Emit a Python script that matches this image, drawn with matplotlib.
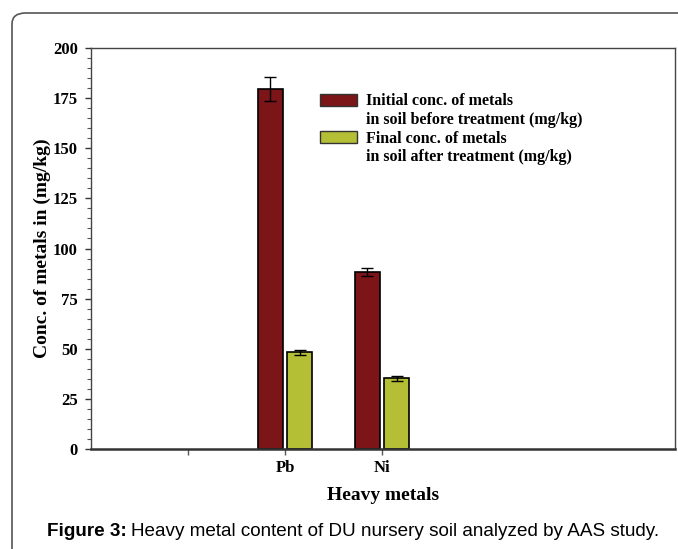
import matplotlib
matplotlib.use("Agg")
import matplotlib.pyplot as plt
import numpy as np
from matplotlib.patches import FancyBboxPatch, Patch
from matplotlib.ticker import MultipleLocator

# data
metals = ["", "Pb", "Ni"]
initial = [0, 179.4, 88.3]
initial_err = [0, 6.0, 2.1]
final = [0, 48.3, 35.3]
final_err = [0, 1.3, 1.2]

red = "#7b1518"
green = "#b5bf35"

plt.rcParams["font.family"] = ["Liberation Serif", "DejaVu Serif"]

fig = plt.figure(figsize=(6.78, 5.49), dpi=100)
ax = fig.add_axes([0.1342, 0.1821, 0.8614, 0.7305])

x = np.arange(1, len(metals) + 1)
w = 0.26
gap = 0.02
mask = np.array(initial) > 0
ax.bar(x[mask] - w / 2 - gap, np.array(initial)[mask], w, color=red,
       edgecolor="black", linewidth=1.2, zorder=2)
ax.bar(x[mask] + w / 2 + gap, np.array(final)[mask], w, color=green,
       edgecolor="black", linewidth=1.2, zorder=2)
ax.errorbar(x[mask] - w / 2 - gap, np.array(initial)[mask],
            yerr=np.array(initial_err)[mask], fmt="none", ecolor="black",
            elinewidth=1, capsize=4, capthick=1, zorder=3)
ax.errorbar(x[mask] + w / 2 + gap, np.array(final)[mask],
            yerr=np.array(final_err)[mask], fmt="none", ecolor="black",
            elinewidth=1, capsize=4, capthick=1, zorder=3)

ax.set_xlim(0, 6.02)
ax.set_ylim(0, 200)
ax.set_xticks(x)
ax.set_xticklabels(metals, fontsize=12, fontweight="bold")
ax.yaxis.set_major_locator(MultipleLocator(25))
ax.yaxis.set_minor_locator(MultipleLocator(5))
ax.tick_params(axis="y", which="major", length=4.5, width=1, labelsize=12,
               color="#333333", pad=5)
ax.tick_params(axis="y", which="minor", length=3, width=0.8, color="#555555")
ax.tick_params(axis="x", length=4, width=1, color="#555555", pad=4)
for lab in ax.get_yticklabels():
    lab.set_fontweight("bold")

for side in ["top", "right"]:
    ax.spines[side].set_color("#444444")
    ax.spines[side].set_linewidth(1)
ax.spines["left"].set_color("#444444")
ax.spines["left"].set_linewidth(1)
ax.spines["bottom"].set_color("#333333")
ax.spines["bottom"].set_linewidth(1.8)

ax.set_ylabel("Conc. of metals in (mg/kg)", fontsize=14, fontweight="bold",
              labelpad=1)
ax.set_xlabel("Heavy metals", fontsize=14, fontweight="bold", labelpad=8)

blank = Patch(facecolor="none", edgecolor="none")
handles = [Patch(facecolor=red, edgecolor="#333333"), blank,
           Patch(facecolor=green, edgecolor="#333333"), blank]
labels = ["Initial conc. of metals", "in soil before treatment (mg/kg)",
          "Final conc. of metals", "in soil after treatment (mg/kg)"]
leg = ax.legend(handles, labels, loc="upper left",
                bbox_to_anchor=(0.381, 0.903), frameon=False,
                prop={"size": 11.5, "weight": "bold"}, handlelength=2.3,
                handleheight=0.8, handletextpad=0.6, labelspacing=0.17,
                borderaxespad=0)

# rounded page border
border = FancyBboxPatch((12 / 678, -0.1), 1.1, 1.1 - 13 / 549,
                        boxstyle="round,pad=0,rounding_size=0.02",
                        transform=fig.transFigure, facecolor="none",
                        edgecolor="#555555", linewidth=1.2, clip_on=False)
fig.patches.append(border)

# caption
cap_y = 1 - 531 / 549
t1 = fig.text(47 / 678, cap_y, "Figure 3:", fontsize=13.6, fontweight="bold",
              family=["Liberation Sans", "DejaVu Sans"], va="center")
fig.canvas.draw()
bb = t1.get_window_extent()
fig.text((bb.x1 + 4) / 678, cap_y,
         "Heavy metal content of DU nursery soil analyzed by AAS study.",
         fontsize=13.6, family=["Liberation Sans", "DejaVu Sans"], va="center")

fig.savefig("out.png", dpi=100)
